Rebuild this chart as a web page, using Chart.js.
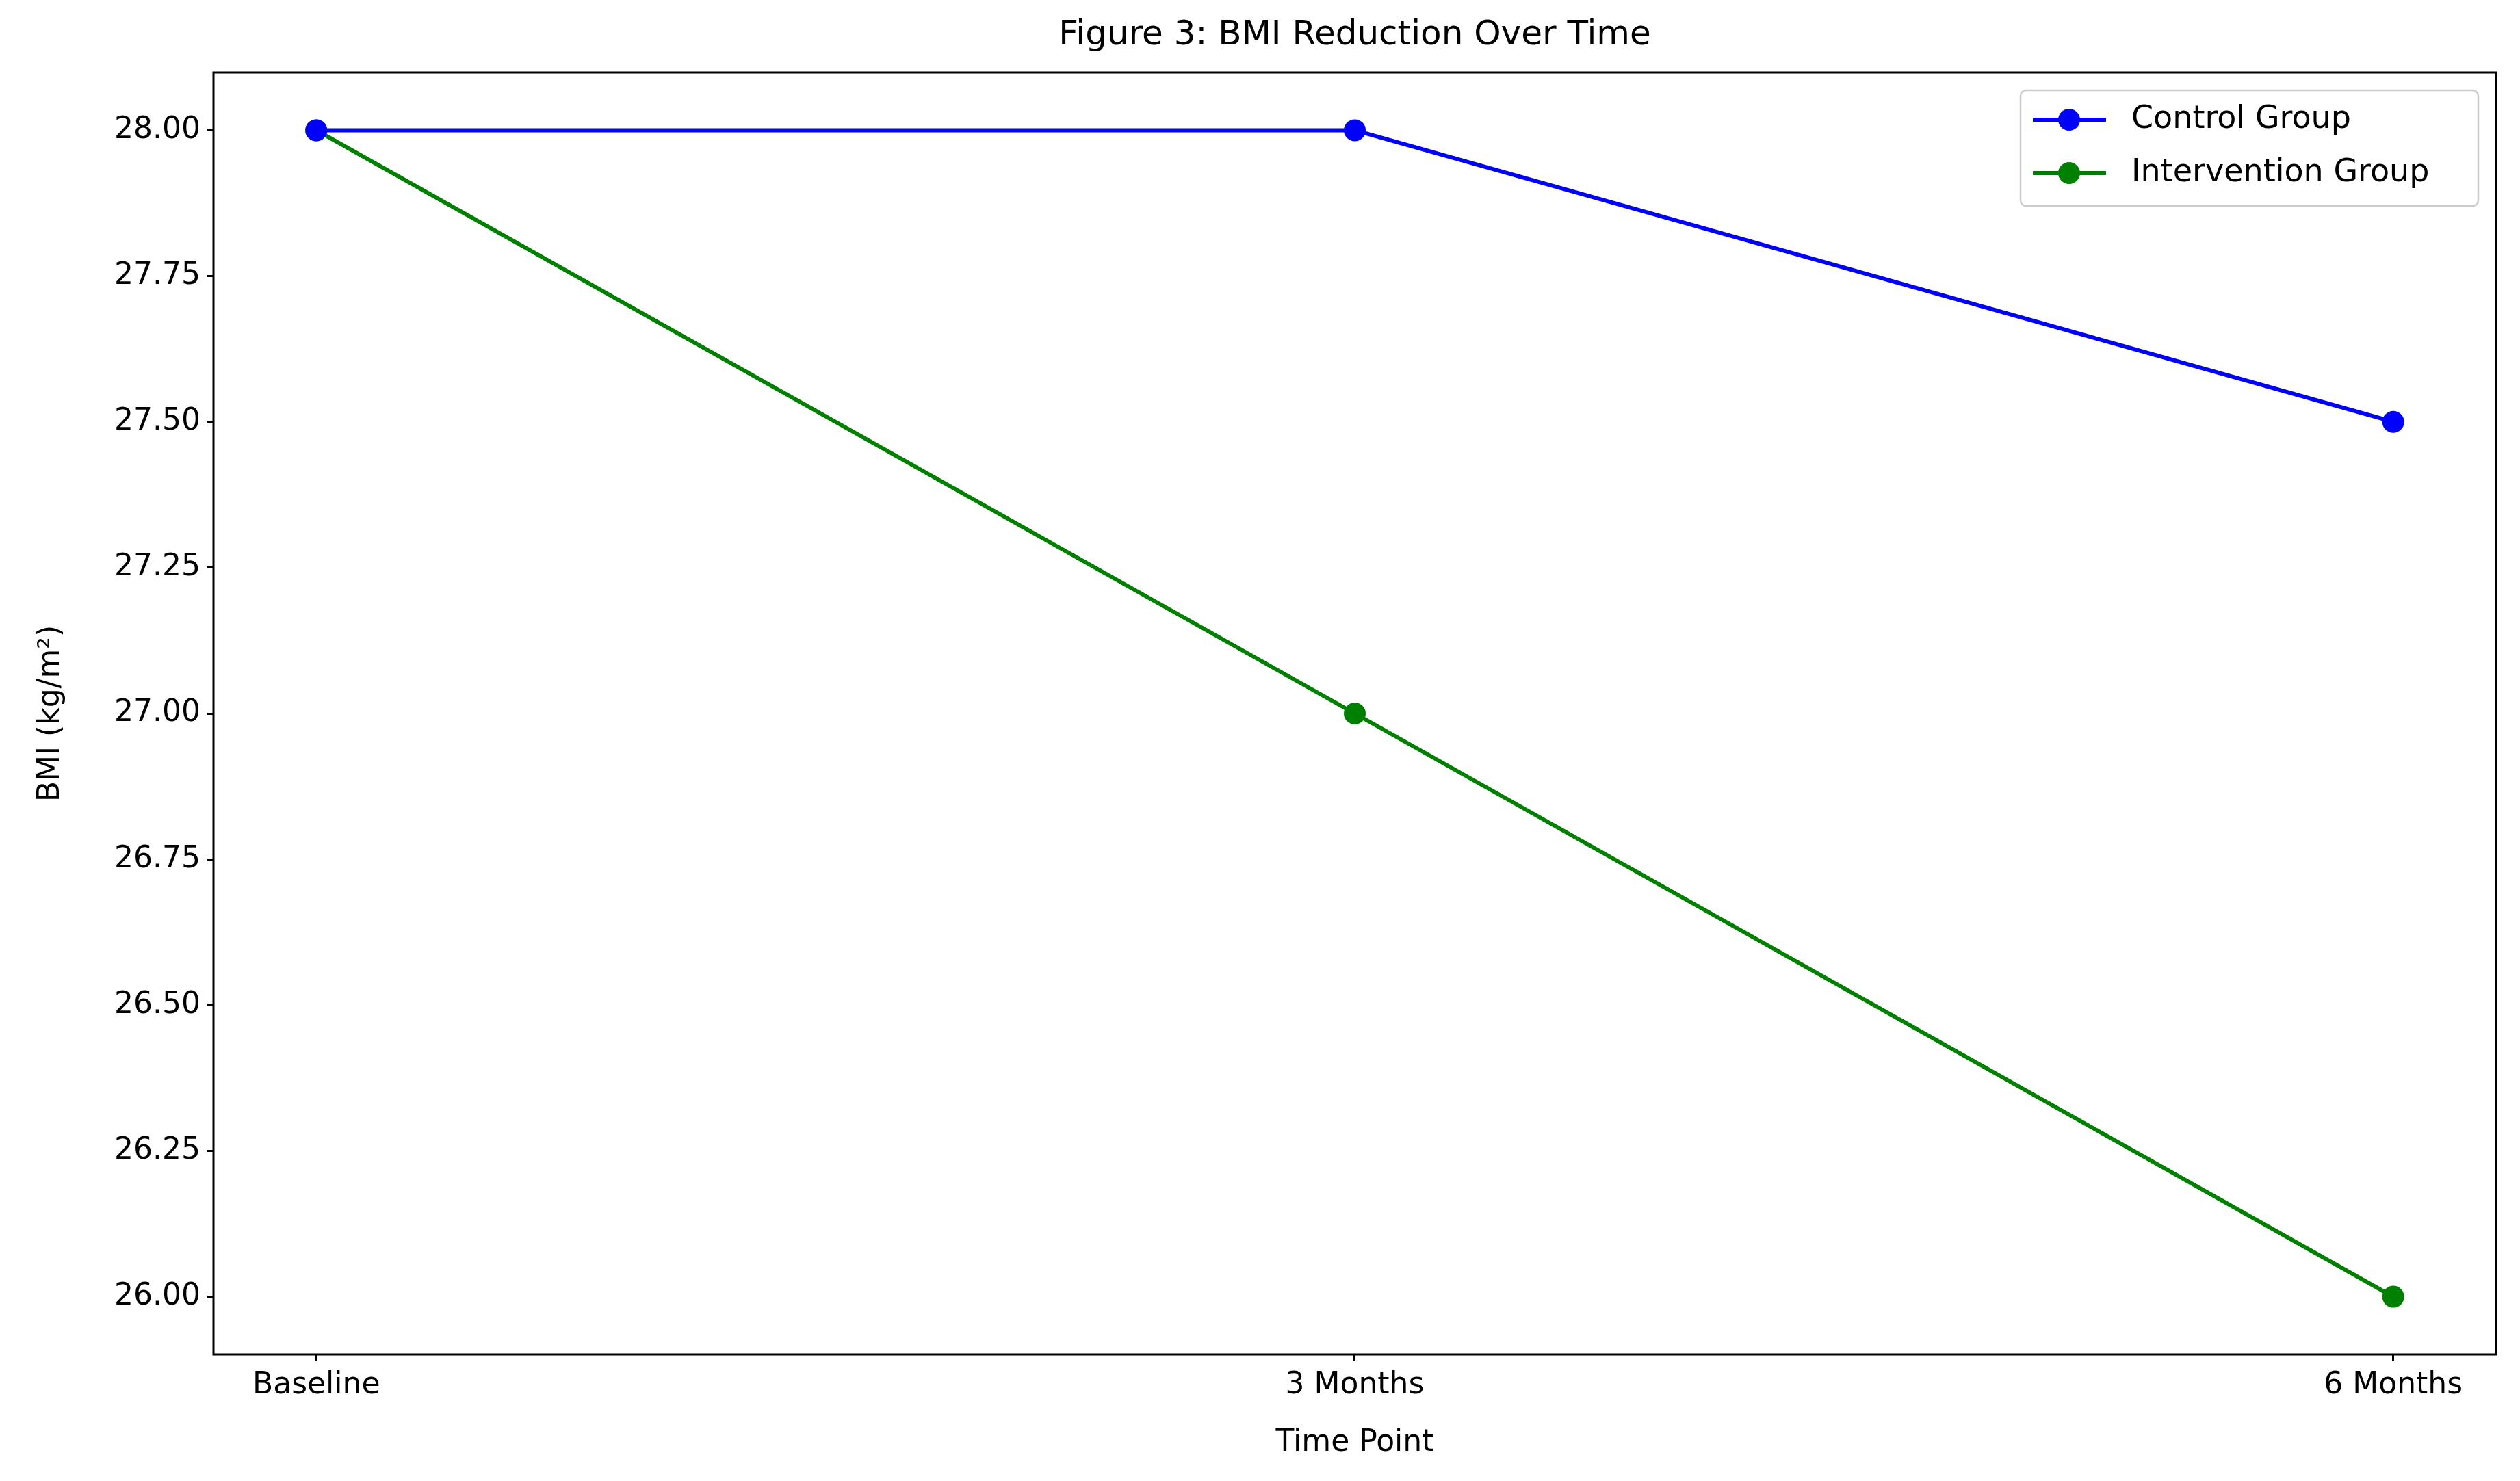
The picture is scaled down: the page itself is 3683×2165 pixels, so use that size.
<!DOCTYPE html>
<html><head><meta charset="utf-8">
<script src="https://cdn.jsdelivr.net/npm/chart.js@4/dist/chart.umd.min.js"></script>
<style>html,body{margin:0;padding:0;background:#fff}</style>
</head><body>
<canvas id="c" width="3683" height="2165"></canvas>
<script>
const categories = ["Baseline", "3 Months", "6 Months"];
const controlValues = [28.0, 28.0, 27.5];
const interventionValues = [28.0, 27.0, 26.0];
const yTicks = [26.00, 26.25, 26.50, 26.75, 27.00, 27.25, 27.50, 27.75, 28.00];
const chartTitle = "Figure 3: BMI Reduction Over Time";
const xTitle = "Time Point";
const yTitle = "BMI (kg/m²)";
const FONT = "'DejaVu Sans', sans-serif";

const toPts = v => v.map((y, i) => ({x: i, y}));

const deco = {
  id: 'deco',
  afterDraw(chart) {
    const ctx = chart.ctx, a = chart.chartArea;
    ctx.save();
    ctx.strokeStyle = '#000'; ctx.lineWidth = 3;
    ctx.strokeRect(a.left, a.top, a.right - a.left, a.bottom - a.top);
    ctx.fillStyle = '#000'; ctx.textAlign = 'center'; ctx.textBaseline = 'middle';
    ctx.font = `50px ${FONT}`;
    ctx.fillText(chartTitle, (a.left + a.right) / 2, 52);
    ctx.font = `44px ${FONT}`;
    ctx.fillText(xTitle, (a.left + a.right) / 2, 2110);
    ctx.save(); ctx.translate(75, (a.top + a.bottom) / 2); ctx.rotate(-Math.PI / 2);
    ctx.fillText(yTitle, 0, 0); ctx.restore();
    // legend
    const lx = 2953, ly = 132, lw = 669, lh = 169;
    ctx.fillStyle = 'rgba(255,255,255,0.8)'; ctx.strokeStyle = '#ccc'; ctx.lineWidth = 2.5;
    ctx.beginPath(); ctx.roundRect(lx, ly, lw, lh, 8); ctx.fill(); ctx.stroke();
    chart.data.datasets.forEach((ds, i) => {
      const y = ly + 43 + i * 78;
      ctx.strokeStyle = ds.borderColor; ctx.lineWidth = 6;
      ctx.beginPath(); ctx.moveTo(lx + 18, y); ctx.lineTo(lx + 125, y); ctx.stroke();
      ctx.fillStyle = ds.borderColor;
      ctx.beginPath(); ctx.arc(lx + 71, y, 16, 0, Math.PI * 2); ctx.fill();
      ctx.fillStyle = '#000'; ctx.textAlign = 'left'; ctx.font = `46px ${FONT}`;
      ctx.fillText(ds.label, lx + 162, y);
    });
    ctx.restore();
  }
};

new Chart(document.getElementById('c'), {
  type: 'line',
  data: {
    datasets: [
      {label: 'Control Group', data: toPts(controlValues), borderColor: '#0000ff', backgroundColor: '#0000ff', borderWidth: 6, pointRadius: 16, pointBackgroundColor: '#0000ff', pointBorderWidth: 0},
      {label: 'Intervention Group', data: toPts(interventionValues), borderColor: '#008000', backgroundColor: '#008000', borderWidth: 6, pointRadius: 16, pointBackgroundColor: '#008000', pointBorderWidth: 0}
    ]
  },
  options: {
    responsive: false, devicePixelRatio: 1, animation: false,
    layout: {padding: {top: 106, right: 35, left: 0, bottom: 0}},
    plugins: {legend: {display: false}, title: {display: false}, tooltip: {enabled: false}},
    scales: {
      x: {
        type: 'linear', min: -0.099, max: 2.099,
        afterBuildTicks(s) { s.ticks = categories.map((c, i) => ({value: i})); },
        ticks: {callback: v => categories[v] ?? '', color: '#000', font: {size: 44, family: FONT}, padding: 10, maxRotation: 0, autoSkip: false},
        grid: {drawOnChartArea: false, drawTicks: true, tickLength: 9, color: '#000', lineWidth: 3},
        border: {display: false},
        afterFit(s) { s.height = 185; }
      },
      y: {
        min: 25.901, max: 28.099,
        afterBuildTicks(s) { s.ticks = yTicks.map(v => ({value: v})); },
        ticks: {callback: v => Number(v).toFixed(2), color: '#000', font: {size: 44, family: FONT}, padding: 10},
        grid: {drawOnChartArea: false, drawTicks: true, tickLength: 9, color: '#000', lineWidth: 3},
        border: {display: false},
        afterFit(s) { s.width = 312; }
      }
    }
  },
  plugins: [deco]
});
</script>
</body></html>
